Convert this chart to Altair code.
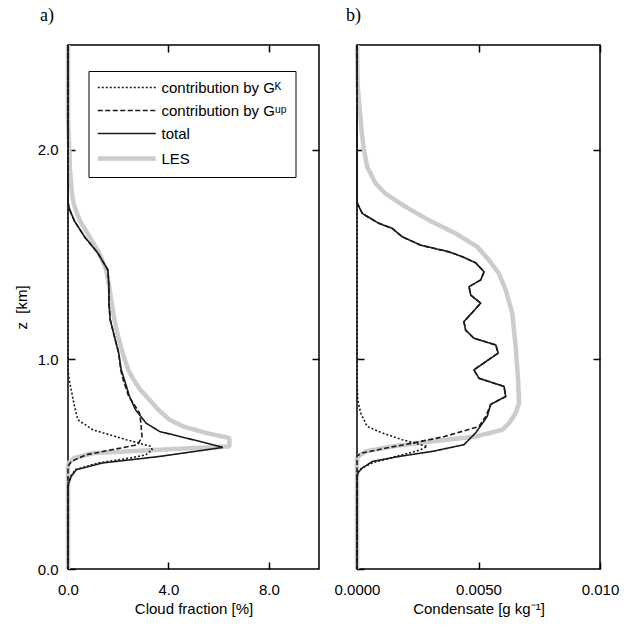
import altair as alt
import pandas as pd

# ---------------- data ----------------
SERIES = ["contribution by Gᴷ", "contribution by Gᵘᵖ", "total", "LES"]
COLORS = ["#1a1a1a", "#1a1a1a", "#1a1a1a", "#cccccc"]
DASHES = [[2, 2], [5, 2.5], [1, 0], [1, 0]]

# panel a: cloud fraction [%]
z_les_a = [2.5, 2.15, 2.0, 1.90, 1.80, 1.745, 1.70, 1.66, 1.585, 1.507, 1.426, 1.35, 1.27, 1.19, 1.109, 1.03,
           0.95, 0.902, 0.855, 0.807, 0.76, 0.712, 0.68, 0.649, 0.625, 0.585, 0.569, 0.553, 0.53, 0.506, 0.49, 0.0]
les_a = [0.0, 0.0, 0.05, 0.08, 0.15, 0.22, 0.35, 0.48, 0.86, 1.25, 1.52, 1.64, 1.74, 1.85, 2.0, 2.18,
         2.4, 2.62, 2.88, 3.25, 3.6, 4.04, 4.6, 5.5, 6.43, 6.43, 3.65, 1.0, 0.26, 0.03, 0.0, 0.0]

z_tot_a = [2.5, 1.75, 1.73, 1.71, 1.66, 1.585, 1.507, 1.426, 1.347, 1.27, 1.19, 1.109, 1.03, 0.95, 0.902,
           0.823, 0.76, 0.696, 0.656, 0.617, 0.58, 0.537, 0.506, 0.474, 0.442, 0.41, 0.39, 0.0]
tot_a = [0.0, 0.0, 0.03, 0.08, 0.26, 0.66, 1.19, 1.59, 1.63, 1.63, 1.68, 1.85, 2.02, 2.12, 2.25,
         2.45, 2.69, 3.11, 3.65, 4.97, 6.17, 3.65, 1.38, 0.33, 0.13, 0.03, 0.0, 0.0]

z_up_a = [2.5, 1.75, 1.73, 1.71, 1.66, 1.585, 1.507, 1.426, 1.347, 1.27, 1.19, 1.109, 1.03, 0.95, 0.902,
          0.823, 0.775, 0.744, 0.70, 0.632, 0.593, 0.545, 0.513, 0.49, 0.0]
up_a = [0.0, 0.0, 0.03, 0.08, 0.26, 0.66, 1.19, 1.59, 1.63, 1.63, 1.68, 1.85, 2.02, 2.10, 2.2,
        2.42, 2.69, 2.85, 2.9, 2.95, 2.78, 0.72, 0.13, 0.0, 0.0]

z_k_a = [2.5, 0.95, 0.90, 0.855, 0.775, 0.712, 0.664, 0.617, 0.585, 0.569, 0.545, 0.53, 0.506, 0.474, 0.442, 0.41, 0.0]
k_a = [0.0, 0.0, 0.05, 0.13, 0.26, 0.39, 0.99, 2.32, 3.31, 3.35, 3.1, 2.5, 1.2, 0.3, 0.1, 0.0, 0.0]

# panel b: condensate [g/kg]
z_les_b = [2.5, 2.3, 2.236, 2.077, 1.998, 1.918, 1.839, 1.79, 1.728, 1.664, 1.601, 1.537, 1.474, 1.41, 1.331,
           1.22, 1.061, 0.902, 0.791, 0.744, 0.696, 0.664, 0.632, 0.609, 0.585, 0.561, 0.545, 0.53, 0.0]
les_b = [0.0, 0.00003, 0.00008, 0.0002, 0.00029, 0.00042, 0.00077, 0.00118, 0.0020, 0.00296, 0.00406, 0.00495,
         0.00543, 0.00584, 0.00612, 0.00639, 0.00653, 0.00663, 0.00667, 0.00653, 0.00626, 0.00598, 0.00488,
         0.0031, 0.00145, 0.00036, 0.00015, 0.0, 0.0]

z_tot_b = [2.5, 1.75, 1.736, 1.696, 1.649, 1.625, 1.585, 1.545, 1.513, 1.49, 1.461, 1.418, 1.379, 1.347, 1.307,
           1.268, 1.18, 1.14, 1.101, 1.069, 1.03, 0.95, 0.91, 0.871, 0.823, 0.785, 0.728, 0.649, 0.593, 0.561,
           0.537, 0.513, 0.482, 0.461, 0.44, 0.0]
tot_b = [0.0, 0.0, 0.00005, 0.00022, 0.0009, 0.00145, 0.00186, 0.00262, 0.00379, 0.00433, 0.00488, 0.00523,
         0.00509, 0.00461, 0.00468, 0.00509, 0.0044, 0.00447, 0.00481, 0.00571, 0.00581, 0.00481, 0.00502,
         0.00605, 0.00612, 0.0055, 0.00536, 0.00488, 0.0044, 0.0031, 0.00173, 0.00063, 0.00022, 0.00005, 0.0, 0.0]

z_up_b = [2.5, 1.75, 1.736, 1.696, 1.649, 1.625, 1.585, 1.545, 1.513, 1.49, 1.461, 1.418, 1.379, 1.347, 1.307,
          1.268, 1.18, 1.14, 1.101, 1.069, 1.03, 0.95, 0.91, 0.871, 0.823, 0.785, 0.728, 0.68, 0.632, 0.601,
          0.577, 0.553, 0.54, 0.0]
up_b = [0.0, 0.0, 0.00005, 0.00022, 0.0009, 0.00145, 0.00186, 0.00262, 0.00379, 0.00433, 0.00488, 0.00523,
        0.00509, 0.00461, 0.00468, 0.00509, 0.0044, 0.00447, 0.00481, 0.00571, 0.00581, 0.00481, 0.00502,
        0.00605, 0.00612, 0.0055, 0.0053, 0.00502, 0.0036, 0.0023, 0.0012, 0.0002, 0.0, 0.0]

z_k_b = [2.5, 0.9, 0.807, 0.744, 0.68, 0.649, 0.617, 0.593, 0.585, 0.569, 0.561, 0.537, 0.509, 0.482, 0.46, 0.0]
k_b = [0.0, 0.0, 0.00003, 0.00015, 0.00042, 0.00104, 0.00186, 0.00262, 0.00289, 0.00262, 0.0024, 0.0016,
       0.0007, 0.0002, 0.0, 0.0]


def frame(pairs):
    rows = []
    for name, zs, vs in pairs:
        for i, (z, v) in enumerate(zip(zs, vs)):
            rows.append({"series": name, "z": z, "v": v, "i": i})
    return pd.DataFrame(rows)


df_a = frame([(SERIES[0], z_k_a, k_a), (SERIES[1], z_up_a, up_a),
              (SERIES[2], z_tot_a, tot_a), (SERIES[3], z_les_a, les_a)])
df_b = frame([(SERIES[0], z_k_b, k_b), (SERIES[1], z_up_b, up_b),
              (SERIES[2], z_tot_b, tot_b), (SERIES[3], z_les_b, les_b)])

FONT = "Liberation Sans"
TICK = 7
H = 524
LES_W = 4.5
LINE_W = 1.6

AX = dict(grid=False, domain=False, tickColor="black", tickWidth=1.5, offset=-TICK, tickSize=TICK,
          labelFont=FONT, labelFontSize=15, labelColor="black",
          titleFont=FONT, titleFontSize=15, titleFontWeight="normal", titleColor="black")


def style_enc(show_legend):
    leg = None
    if show_legend:
        leg = alt.Legend(
            title=None, symbolType="M-1,0H7", symbolSize=210.25,
            symbolStrokeWidth=alt.ExprRef(expr=f"datum.value === 'LES' ? {LES_W} : {LINE_W}"),
        )
    return dict(
        color=alt.Color("series:N", scale=alt.Scale(domain=SERIES, range=COLORS), legend=leg),
        strokeDash=alt.StrokeDash("series:N", scale=alt.Scale(domain=SERIES, range=DASHES), legend=leg),
        order=alt.Order("i:Q"),
    )


def panel(df, xdom, xvals, xtitle, xlabel_expr, width, show_legend, ylabels, title, dx):
    yscale = alt.Scale(domain=[0, 2.5], nice=False, zero=False)
    xscale = alt.Scale(domain=xdom, nice=False, zero=False)
    ax_bottom = alt.Axis(values=xvals, labelExpr=xlabel_expr, labelPadding=13, title=xtitle,
                         titlePadding=4, labelFlush=False, labelOverlap=False, **AX)
    ax_left = alt.Axis(values=[0, 1, 2], format=".1f", labels=ylabels, labelPadding=10,
                       title="z\u00a0\u00a0[km]" if ylabels else None,
                       titlePadding=8, labelOverlap=False, **AX)
    ax_top = alt.Axis(values=xvals, orient="top", labels=False, title=None, **AX)
    ax_right = alt.Axis(values=[1, 2], orient="right", labels=False, title=None, **AX)

    les = alt.Chart(df).transform_filter(alt.datum.series == "LES").mark_line(
        strokeWidth=LES_W, strokeJoin="bevel").encode(
        x=alt.X("v:Q", scale=xscale, axis=ax_bottom),
        y=alt.Y("z:Q", scale=yscale, axis=ax_left),
        **style_enc(show_legend),
    )
    rest = alt.Chart(df).transform_filter(alt.datum.series != "LES").mark_line(
        strokeWidth=LINE_W).encode(
        x=alt.X("v:Q", scale=xscale, axis=ax_top),
        y=alt.Y("z:Q", scale=yscale, axis=ax_right),
        **style_enc(show_legend),
    )
    return alt.layer(les, rest).resolve_axis(x="independent", y="independent").properties(
        width=width, height=H,
        title=alt.TitleParams(title, anchor="start", frame="group", dx=dx, offset=16.5,
                              font="Liberation Serif", fontSize=18, fontWeight="normal", color="black"),
    )


pa = panel(df_a, [0, 10], [0, 4, 8], "Cloud fraction [%]", "format(datum.value, '.1f')",
           251, True, True, "a)", -28)
pb = panel(df_b, [0, 0.01], [0, 0.005, 0.01], "Condensate [g kg\u207b\u00b9]",
           "datum.value >= 0.0099 ? '0.010' : format(datum.value, '.4f')",
           243, False, False, "b)", -11)

chart = alt.hconcat(pa, pb, spacing=38, bounds="flush").resolve_scale(
    color="independent", strokeDash="independent"
).properties(
    padding={"left": 13, "top": 6, "right": 5, "bottom": 5},
    background="white",
).configure_view(
    stroke="black", strokeWidth=1.5
).configure_legend(
    orient="none", legendX=20.5, legendY=26, strokeColor="black", strokeWidth=1,
    fillColor="white", padding=9, labelFont=FONT, labelFontSize=15, labelColor="black",
    labelOffset=49, rowPadding=7,
)

chart.save("out.html", embed_options={"renderer": "svg", "actions": False})
